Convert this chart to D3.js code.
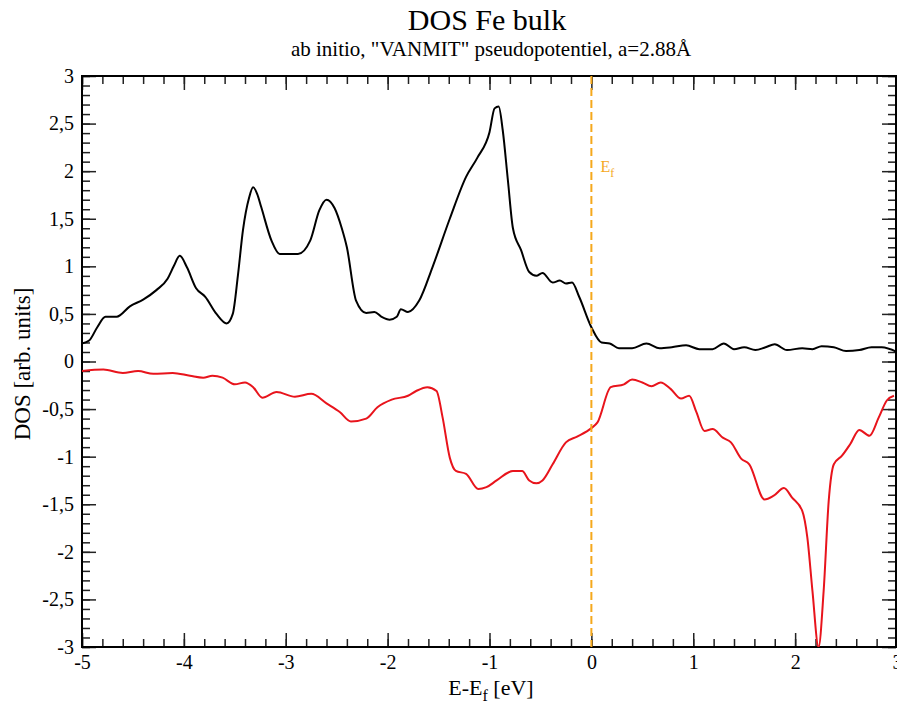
<!DOCTYPE html>
<html>
<head>
<meta charset="utf-8" />
<title>DOS Fe bulk</title>
<style>
  body { margin: 0; background: #fff; }
  svg text { font-family: "Liberation Serif", "Times New Roman", Tinos, Times, "DejaVu Serif", serif !important; }
</style>
</head>
<body>
<div id="chart"></div>
<script src="https://d3js.org/d3.v7.min.js"></script>
<script>

// spin up (black)
const upE = [-5.0, -4.93, -4.85, -4.77, -4.66, -4.53, -4.40, -4.27, -4.16, -4.10, -4.04, -3.97, -3.88, -3.79,
  -3.68, -3.58, -3.52, -3.47, -3.42, -3.36, -3.32, -3.28, -3.24, -3.14, -3.06, -2.88, -2.76, -2.67, -2.60,
  -2.52, -2.45, -2.40, -2.31, -2.21, -2.13, -2.06, -1.98, -1.91, -1.87, -1.80, -1.69, -1.56, -1.39, -1.23,
  -1.12, -1.00, -0.95, -0.91, -0.87, -0.82, -0.77, -0.69, -0.61, -0.54, -0.48, -0.38, -0.31, -0.25, -0.19,
  -0.12, 0.0, 0.10, 0.18, 0.27, 0.40, 0.54, 0.67, 0.79, 0.93, 1.06, 1.19, 1.30, 1.40, 1.50, 1.61, 1.71,
  1.80, 1.92, 2.07, 2.17, 2.26, 2.38, 2.50, 2.63, 2.75, 2.85, 3.0];
const upDOS = [0.19, 0.22, 0.36, 0.47, 0.47, 0.58, 0.65, 0.75, 0.87, 1.0, 1.11, 0.99, 0.77, 0.68,
  0.50, 0.40, 0.50, 0.90, 1.38, 1.72, 1.83, 1.76, 1.62, 1.27, 1.13, 1.13, 1.27, 1.59, 1.70,
  1.61, 1.40, 1.20, 0.64, 0.51, 0.52, 0.47, 0.44, 0.47, 0.55, 0.52, 0.64, 0.99, 1.50, 1.94,
  2.14, 2.41, 2.66, 2.68, 2.43, 1.91, 1.40, 1.17, 0.94, 0.90, 0.93, 0.83, 0.85, 0.82, 0.83,
  0.68, 0.36, 0.20, 0.19, 0.14, 0.14, 0.19, 0.14, 0.15, 0.17, 0.13, 0.13, 0.19, 0.13, 0.15, 0.12, 0.15,
  0.18, 0.12, 0.14, 0.13, 0.16, 0.15, 0.11, 0.12, 0.15, 0.15, 0.10];

// spin down (red)
const downE = [-5.0, -4.79, -4.60, -4.45, -4.30, -4.11, -3.94, -3.81, -3.72, -3.62, -3.50, -3.40, -3.32,
  -3.23, -3.09, -2.91, -2.75, -2.60, -2.47, -2.36, -2.21, -2.10, -1.96, -1.80, -1.72, -1.61, -1.52, -1.46,
  -1.39, -1.33, -1.23, -1.11, -1.03, -0.93, -0.77, -0.68, -0.61, -0.54, -0.48, -0.38, -0.25, -0.14, 0.0,
  0.06, 0.19, 0.32, 0.40, 0.50, 0.59, 0.68, 0.78, 0.88, 0.96, 1.03, 1.11, 1.19, 1.29, 1.37, 1.47, 1.55,
  1.70, 1.79, 1.89, 1.97, 2.07, 2.12, 2.17, 2.23, 2.28, 2.33, 2.38, 2.46, 2.54, 2.63, 2.73, 2.82, 2.90, 2.97];
const downDOS = [-0.10, -0.085, -0.12, -0.10, -0.13, -0.12, -0.15, -0.17, -0.15, -0.17, -0.24, -0.22, -0.27,
  -0.38, -0.32, -0.37, -0.34, -0.44, -0.53, -0.63, -0.60, -0.48, -0.40, -0.36, -0.31, -0.27, -0.31, -0.59,
  -1.01, -1.15, -1.18, -1.34, -1.32, -1.25, -1.15, -1.15, -1.25, -1.28, -1.25, -1.08, -0.85, -0.79, -0.70,
  -0.64, -0.27, -0.24, -0.19, -0.22, -0.26, -0.22, -0.29, -0.39, -0.36, -0.53, -0.73, -0.71, -0.80, -0.85, -1.02, -1.08,
  -1.45, -1.41, -1.33, -1.43, -1.57, -1.85, -2.41, -3.0, -2.41, -1.46, -1.08, -0.99, -0.87, -0.72, -0.78, -0.59, -0.41, -0.36];

const xTicks = [-5, -4, -3, -2, -1, 0, 1, 2, 3];
const yTicks = [-3, -2.5, -2, -1.5, -1, -0.5, 0, 0.5, 1, 1.5, 2, 2.5, 3];
const fermiE = 0;

const width = 897, height = 708;
const margin = { top: 76, right: 0, bottom: 61, left: 82 };

const svg = d3.select("#chart").append("svg")
  .attr("width", width)
  .attr("height", height);

const x = d3.scaleLinear().domain([-5, 3]).range([margin.left, width]);
const y = d3.scaleLinear().domain([-3, 3]).range([height - margin.bottom, margin.top]);

// GRACE-style labels: plain hyphen and decimal comma
const fmt = d => String(d).replace(".", ",");

svg.append("defs").append("clipPath").attr("id", "clip")
  .append("rect")
  .attr("x", x(-5)).attr("y", y(3))
  .attr("width", x(3) - x(-5)).attr("height", y(-3) - y(3));

// ticks (inward, all four sides)
const minorX = d3.range(-5, 3.001, 0.2);
const minorY = d3.range(-3, 3.001, 0.1);

svg.append("g").attr("transform", `translate(0,${y(-3)})`)
  .call(d3.axisBottom(x).tickValues(xTicks).tickSize(-14).tickFormat(fmt).tickPadding(8));
svg.append("g").attr("transform", `translate(0,${y(-3)})`)
  .call(d3.axisBottom(x).tickValues(minorX).tickSize(-8).tickFormat(""));
svg.append("g").attr("transform", `translate(0,${y(3)})`)
  .call(d3.axisTop(x).tickValues(xTicks).tickSize(-14).tickFormat(""));
svg.append("g").attr("transform", `translate(0,${y(3)})`)
  .call(d3.axisTop(x).tickValues(minorX).tickSize(-8).tickFormat(""));
svg.append("g").attr("transform", `translate(${x(-5)},0)`)
  .call(d3.axisLeft(y).tickValues(yTicks).tickSize(-14).tickFormat(fmt).tickPadding(8));
svg.append("g").attr("transform", `translate(${x(-5)},0)`)
  .call(d3.axisLeft(y).tickValues(minorY).tickSize(-8).tickFormat(""));
svg.append("g").attr("transform", `translate(${x(3) - 1},0)`)
  .call(d3.axisRight(y).tickValues(yTicks).tickSize(-14).tickFormat(""));
svg.append("g").attr("transform", `translate(${x(3) - 1},0)`)
  .call(d3.axisRight(y).tickValues(minorY).tickSize(-8).tickFormat(""));

svg.selectAll(".domain").remove();
svg.selectAll("g").attr("font-family", null);
svg.selectAll(".tick line").attr("stroke", "#222").attr("stroke-width", 1.5);
svg.selectAll(".tick text")
  .attr("font-size", 20)
  .attr("fill", "#000");

// frame
svg.append("rect")
  .attr("x", x(-5)).attr("y", y(3))
  .attr("width", x(3) - x(-5) - 1).attr("height", y(-3) - y(3))
  .attr("fill", "none").attr("stroke", "#000").attr("stroke-width", 2);

const line = d3.line()
  .x(d => x(d[0]))
  .y(d => y(d[1]))
  .curve(d3.curveMonotoneX);

const plot = svg.append("g").attr("clip-path", "url(#clip)");

plot.append("path")
  .datum(upE.map((e, i) => [e, upDOS[i]]))
  .attr("d", line)
  .attr("fill", "none")
  .attr("stroke", "#000")
  .attr("stroke-width", 2);

plot.append("path")
  .datum(downE.map((e, i) => [e, downDOS[i]]))
  .attr("d", line)
  .attr("fill", "none")
  .attr("stroke", "#e8141c")
  .attr("stroke-width", 2);

// Fermi level
svg.append("line")
  .attr("x1", x(fermiE)).attr("x2", x(fermiE))
  .attr("y1", y(3)).attr("y2", y(-3))
  .attr("stroke", "#f5a81c")
  .attr("stroke-width", 2)
  .attr("stroke-dasharray", "8,4");

const ef = svg.append("text")
  .attr("x", x(fermiE) + 9).attr("y", 172)
  .attr("font-size", 16)
  .attr("fill", "#f5a81c");
ef.append("tspan").text("E");
ef.append("tspan").attr("dy", 5).attr("font-size", 12).text("f");

// titles
svg.append("text")
  .attr("x", 487).attr("y", 30)
  .attr("text-anchor", "middle")
  .attr("font-size", 30)
  .text("DOS Fe bulk");

svg.append("text")
  .attr("x", 491).attr("y", 56)
  .attr("text-anchor", "middle")
  .attr("font-size", 21)
  .text("ab initio, \"VANMIT\" pseudopotentiel, a=2.88Å");

// axis labels
const xl = svg.append("text")
  .attr("x", 491).attr("y", 695)
  .attr("text-anchor", "middle")
  .attr("font-size", 22);
xl.append("tspan").text("E-E");
xl.append("tspan").attr("dy", 6).attr("font-size", 16).text("f");
xl.append("tspan").attr("dy", -6).text(" [eV]");

svg.append("text")
  .attr("transform", `translate(30,364) rotate(-90)`)
  .attr("text-anchor", "middle")
  .attr("font-size", 23)
  .text("DOS [arb. units]");

</script>
</body>
</html>
